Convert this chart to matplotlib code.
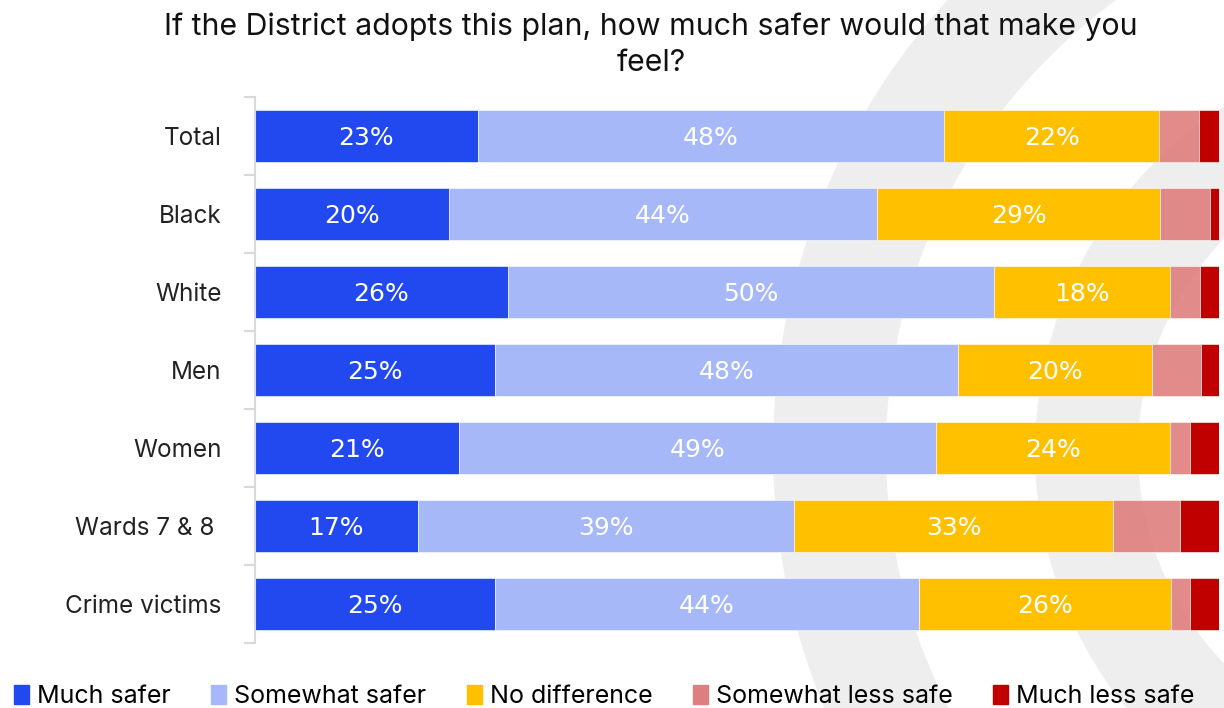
import matplotlib.pyplot as plt
from matplotlib.patches import Wedge, Patch

categories = ["Total", "Black", "White", "Men", "Women", "Wards 7 & 8 ", "Crime victims"]
series = ["Much safer", "Somewhat safer", "No difference", "Somewhat less safe", "Much less safe"]
much_safer = [23.1, 20.1, 26.2, 24.9, 21.2, 16.9, 24.9]
somewhat_safer = [48.4, 44.4, 50.5, 48.0, 49.4, 39.0, 44.0]
no_difference = [22.3, 29.4, 18.2, 20.2, 24.3, 33.1, 26.1]
somewhat_less = [4.1, 5.2, 3.1, 5.0, 2.1, 7.0, 2.0]
much_less = [2.1, 0.9, 2.0, 1.9, 3.0, 4.0, 3.0]
colors = ["#2249F0", "#A7B8F8", "#FFC000", "#DF7E7E", "#C00000"]

plt.rcParams['font.family'] = ['Inter', 'DejaVu Sans']

fig = plt.figure(figsize=(12.24, 7.08), dpi=100)

# decorative background arcs
bg = fig.add_axes([0, 0, 1, 1], zorder=0)
bg.set_xlim(0, 1224)
bg.set_ylim(0, 708)
bg.axis('off')
bg.add_patch(Wedge((1443, 257), 670, 60, 300, width=113, color="#EEEEEE", lw=0))
bg.add_patch(Wedge((1443, 257), 408, 90, 270, width=103, color="#EEEEEE", lw=0))

ax = fig.add_axes([0.2083, 0.0918, 0.9959 - 0.2083, 0.863 - 0.0918], zorder=1)
ax.patch.set_alpha(0)

all_values = [much_safer, somewhat_safer, no_difference, somewhat_less, much_less]
ypos = list(range(len(categories)))
left = [0] * len(categories)
for i, vals in enumerate(all_values):
    alpha = 0.9 if i == 3 else 1.0
    ax.barh(ypos, vals, left=left, height=0.67, color=colors[i], alpha=alpha,
            edgecolor="white", linewidth=0.4, label=series[i])
    if i < 3:
        for y, l, v in zip(ypos, left, vals):
            ax.text(l + v / 2, y + 0.02, f"{round(v)}%", ha="center", va="center",
                    color="white", fontsize=18, family=['DejaVu Sans'])
    left = [a + b for a, b in zip(left, vals)]

ax.set_xlim(0, 100)
ax.set_ylim(6.5, -0.5)
ax.set_yticks(ypos)
ax.set_yticklabels(categories, fontsize=17.5, color="#222222")
ax.set_yticks([y - 0.5 for y in range(len(categories) + 1)], minor=True)
ax.tick_params(axis='y', which='major', length=0, pad=24)
ax.tick_params(axis='y', which='minor', length=8, color="#D9D9D9", width=1.5)
ax.set_xticks([])
for s in ["top", "right", "bottom"]:
    ax.spines[s].set_visible(False)
ax.spines["left"].set_color("#D9D9D9")
ax.spines["left"].set_linewidth(1.5)

fig.text(0.532, 0.982, "If the District adopts this plan, how much safer would that make you\nfeel?",
         ha="center", va="top", fontsize=21.8, color="#111111", linespacing=1.33)

handles = [Patch(color=c) for c in colors]
fig.legend(handles, series, loc="lower center", bbox_to_anchor=(0.4935, -0.032), ncol=5,
           frameon=False, fontsize=18, handlelength=0.6, handleheight=0.8,
           handletextpad=0.32, columnspacing=1.62)

fig.savefig("out.png", dpi=100)
